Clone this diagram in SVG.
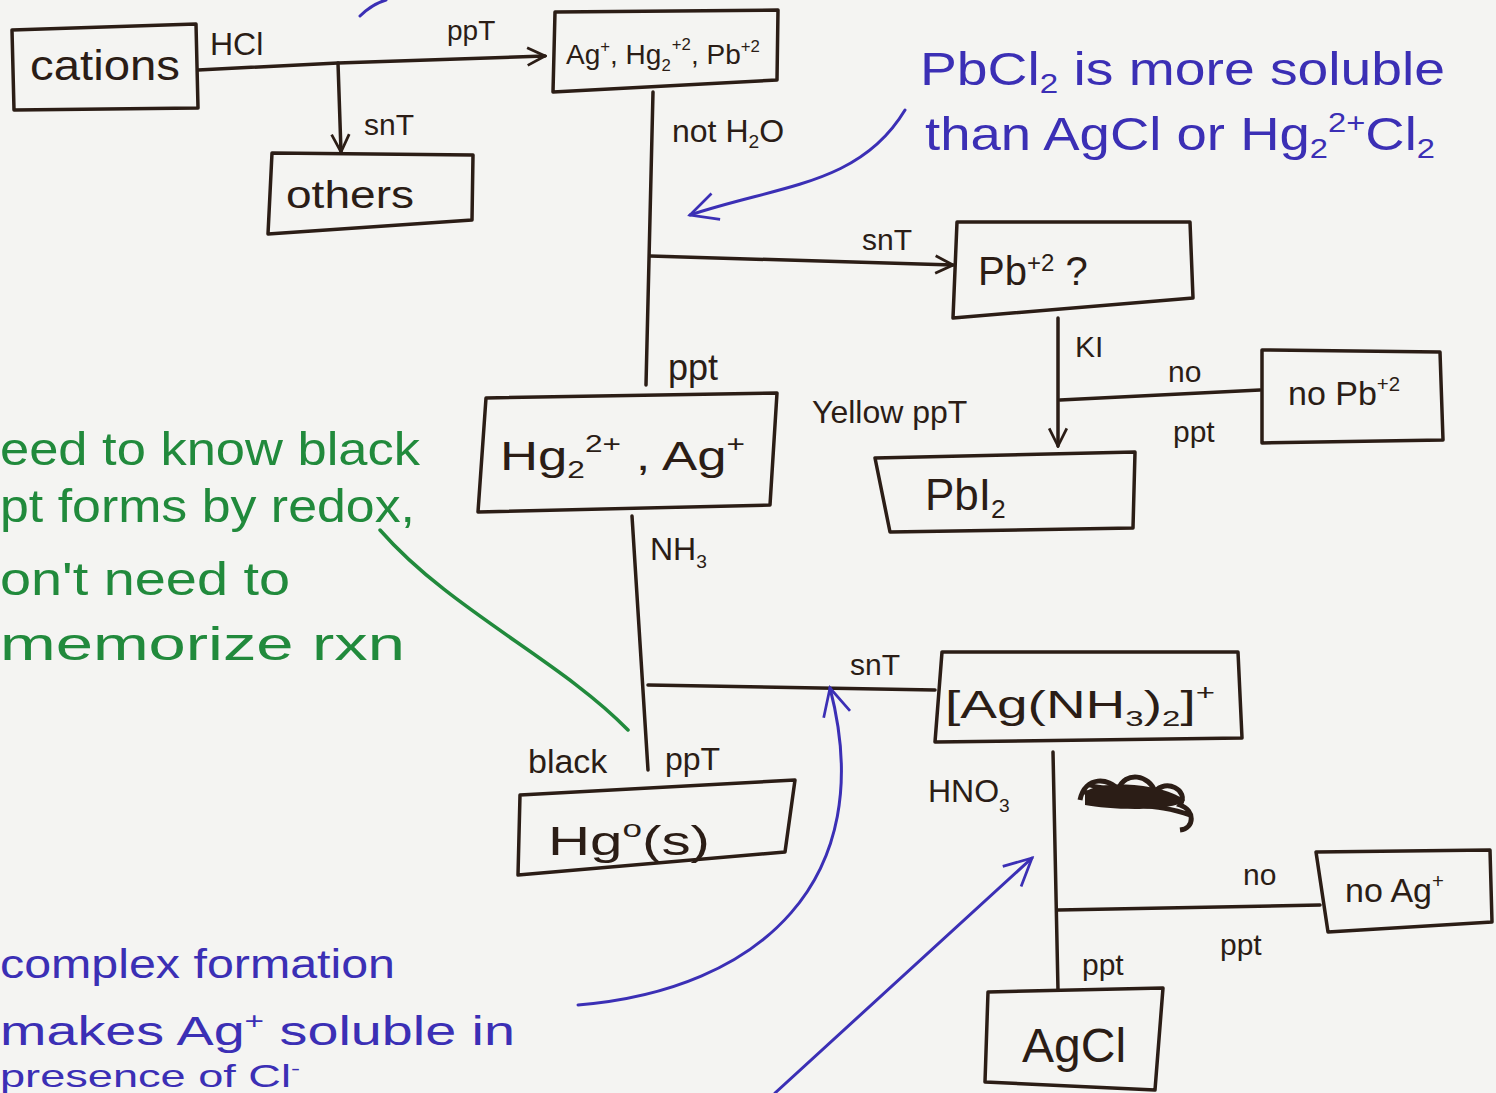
<svg xmlns="http://www.w3.org/2000/svg" width="1496" height="1093" viewBox="0 0 1496 1093">
<defs>
<style>
.bx{fill:none;stroke:#2b1d16;stroke-width:3.5;stroke-linejoin:round}
.ln{fill:none;stroke:#2b1d16;stroke-width:3.5;stroke-linecap:round}
.bl{fill:none;stroke:#3b2fb5;stroke-width:3;stroke-linecap:round}
.gl{fill:none;stroke:#218a3c;stroke-width:3.5;stroke-linecap:round}
.t{font-family:"Liberation Sans",Arial,sans-serif;fill:#2b1d16}
.tb{font-family:"Liberation Sans",Arial,sans-serif;fill:#3b2fb5}
.tg{font-family:"Liberation Sans",Arial,sans-serif;fill:#218a3c}
.s{font-size:60%}
</style>
<marker id="ah" viewBox="0 0 20 20" refX="18" refY="10" markerWidth="22" markerHeight="22" markerUnits="userSpaceOnUse" orient="auto">
<path d="M2,2 L18,10 L2,18" fill="none" stroke="#2b1d16" stroke-width="2.5"/>
</marker>
<marker id="ahb" viewBox="0 0 20 20" refX="18" refY="10" markerWidth="34" markerHeight="34" markerUnits="userSpaceOnUse" orient="auto">
<path d="M2,2 L18,10 L2,18" fill="none" stroke="#3b2fb5" stroke-width="1.6"/>
</marker>
</defs>
<rect width="1496" height="1093" fill="#f4f4f2"/>

<g id="connectors">
<path class="ln" d="M198,70 L338,63 L545,56" marker-end="url(#ah)"/>
<path class="ln" d="M338,63 L341,152" marker-end="url(#ah)"/>
<path class="ln" d="M653,92 L646,385"/>
<path class="ln" d="M650,256 L953,265" marker-end="url(#ah)"/>
<path class="ln" d="M1058,318 L1058,446" marker-end="url(#ah)"/>
<path class="ln" d="M1060,400 L1260,390"/>
<path class="ln" d="M632,516 L648,770"/>
<path class="ln" d="M648,685 L935,690"/>
<path class="ln" d="M1053,752 L1058,990"/>
<path class="ln" d="M1058,910 L1320,905"/>
<path class="bl" d="M905,110 C860,185 780,185 690,215" marker-end="url(#ahb)"/>
<path class="bl" d="M360,16 C368,8 376,3 386,0"/>
<path class="bl" d="M578,1005 C760,990 880,880 830,688" marker-end="url(#ahb)"/>
<path class="bl" d="M775,1093 L1032,858" marker-end="url(#ahb)"/>
<path class="gl" d="M380,530 C450,610 560,660 628,730"/>
</g>

<g id="n-cations">
<path class="bx" d="M12,30 L196,24 L198,108 L14,110 Z"/>
<text class="t" x="30" y="80" font-size="42" textLength="150" lengthAdjust="spacingAndGlyphs">cations</text>
</g>
<g id="n-others">
<path class="bx" d="M272,153 L473,155 L472,220 L268,234 Z"/>
<text class="t" x="286" y="208" font-size="38" textLength="128" lengthAdjust="spacingAndGlyphs">others</text>
</g>
<g id="n-group1">
<path class="bx" d="M555,12 L778,10 L777,80 L553,92 Z"/>
<text class="t" x="566" y="64" font-size="28">Ag<tspan class="s" dy="-12">+</tspan><tspan dy="12">, Hg</tspan><tspan class="s" dy="7">2</tspan><tspan class="s" dx="1" dy="-21">+2</tspan><tspan dy="14">, Pb</tspan><tspan class="s" dy="-12">+2</tspan></text>
</g>
<g id="n-pb">
<path class="bx" d="M957,222 L1190,222 L1193,298 L953,318 Z"/>
<text class="t" x="978" y="285" font-size="40">Pb<tspan class="s" dy="-14">+2</tspan><tspan dy="14"> ?</tspan></text>
</g>
<g id="n-nopb">
<path class="bx" d="M1262,350 L1440,352 L1443,440 L1262,443 Z"/>
<text class="t" x="1288" y="405" font-size="34">no  Pb<tspan class="s" dy="-14">+2</tspan></text>
</g>
<g id="n-pbi2">
<path class="bx" d="M875,458 L1135,452 L1133,528 L890,532 Z"/>
<text class="t" x="925" y="510" font-size="44">PbI<tspan class="s" dy="8">2</tspan></text>
</g>
<g id="n-hgag">
<path class="bx" d="M486,398 L777,393 L770,505 L478,512 Z"/>
<text class="t" x="500" y="470" font-size="40" textLength="245" lengthAdjust="spacingAndGlyphs">Hg<tspan class="s" dy="8">2</tspan><tspan class="s" dy="-26">2+</tspan><tspan dy="18"> , Ag</tspan><tspan class="s" dy="-18">+</tspan></text>
</g>
<g id="n-complex">
<path class="bx" d="M942,652 L1238,652 L1242,738 L935,742 Z"/>
<text class="t" x="945" y="718" font-size="38" textLength="270" lengthAdjust="spacingAndGlyphs">[Ag(NH<tspan class="s" dy="8">3</tspan><tspan dy="-8">)</tspan><tspan class="s" dy="8">2</tspan><tspan dy="-8">]</tspan><tspan class="s" dy="-18">+</tspan></text>
</g>
<g id="n-hg0">
<path class="bx" d="M520,795 L795,780 L785,852 L518,875 Z"/>
<text class="t" x="548" y="855" font-size="40" textLength="162" lengthAdjust="spacingAndGlyphs">Hg<tspan class="s" dy="-18">o</tspan><tspan dy="18">(s)</tspan></text>
</g>
<g id="n-noag">
<path class="bx" d="M1316,852 L1490,850 L1492,922 L1328,932 Z"/>
<text class="t" x="1345" y="902" font-size="34">no Ag<tspan class="s" dy="-14">+</tspan></text>
</g>
<g id="n-agcl">
<path class="bx" d="M988,992 L1163,988 L1155,1090 L985,1082 Z"/>
<text class="t" x="1022" y="1062" font-size="48">AgCl</text>
</g>

<g id="labels">
<text class="t" x="210" y="55" font-size="32">HCl</text>
<text class="t" x="447" y="40" font-size="28">ppT</text>
<text class="t" x="364" y="135" font-size="30">snT</text>
<text class="t" x="672" y="142" font-size="32">not H<tspan class="s" dy="6">2</tspan><tspan dy="-6">O</tspan></text>
<text class="t" x="862" y="250" font-size="30">snT</text>
<text class="t" x="1075" y="357" font-size="30">KI</text>
<text class="t" x="1168" y="382" font-size="30">no</text>
<text class="t" x="1173" y="442" font-size="30">ppt</text>
<text class="t" x="812" y="423" font-size="32">Yellow ppT</text>
<text class="t" x="668" y="380" font-size="36">ppt</text>
<text class="t" x="650" y="560" font-size="32">NH<tspan class="s" dy="8">3</tspan></text>
<text class="t" x="850" y="675" font-size="30">snT</text>
<text class="t" x="528" y="773" font-size="34">black</text>
<text class="t" x="665" y="770" font-size="32">ppT</text>
<text class="t" x="928" y="802" font-size="32">HNO<tspan class="s" dy="10">3</tspan></text>
<path d="M1080,800 C1085,775 1110,778 1118,790 C1125,770 1150,775 1155,792 C1165,778 1190,790 1180,805 C1195,810 1195,828 1180,830 M1082,790 C1110,810 1150,800 1190,815 M1090,785 C1120,795 1140,780 1170,800" fill="none" stroke="#2b1d16" stroke-width="5"/>
<path d="M1085,792 C1100,780 1160,782 1185,800 C1175,812 1110,810 1085,805 Z" fill="#2b1d16"/>
<text class="t" x="1243" y="885" font-size="30">no</text>
<text class="t" x="1220" y="955" font-size="30">ppt</text>
<text class="t" x="1082" y="975" font-size="30">ppt</text>
</g>

<g id="notes">
<text class="tb" x="920" y="85" font-size="46" textLength="525" lengthAdjust="spacingAndGlyphs">PbCl<tspan class="s" dy="8">2</tspan><tspan dy="-8"> is more soluble</tspan></text>
<text class="tb" x="925" y="150" font-size="46" textLength="510" lengthAdjust="spacingAndGlyphs">than AgCl or Hg<tspan class="s" dy="8">2</tspan><tspan class="s" dy="-26">2+</tspan><tspan dy="18">Cl</tspan><tspan class="s" dy="8">2</tspan></text>
<text class="tb" x="0" y="978" font-size="40" textLength="395" lengthAdjust="spacingAndGlyphs">complex formation</text>
<text class="tb" x="0" y="1045" font-size="40" textLength="515" lengthAdjust="spacingAndGlyphs">makes Ag<tspan class="s" dy="-16">+</tspan><tspan dy="16"> soluble in</tspan></text>
<text class="tb" x="0" y="1087" font-size="32" textLength="300" lengthAdjust="spacingAndGlyphs">presence of Cl<tspan class="s" dy="-12">-</tspan></text>
<text class="tg" x="0" y="465" font-size="46" textLength="420" lengthAdjust="spacingAndGlyphs">eed to know black</text>
<text class="tg" x="0" y="522" font-size="46" textLength="415" lengthAdjust="spacingAndGlyphs">pt forms by redox,</text>
<text class="tg" x="0" y="595" font-size="46" textLength="290" lengthAdjust="spacingAndGlyphs">on't need to</text>
<text class="tg" x="0" y="660" font-size="46" textLength="405" lengthAdjust="spacingAndGlyphs">memorize rxn</text>
</g>
</svg>
